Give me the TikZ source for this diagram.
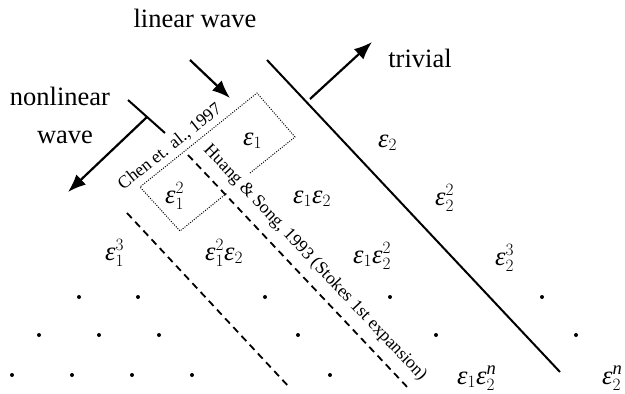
\documentclass[tikz,border=0pt]{standalone}
\usepackage{fontspec}
\setmainfont{Liberation Serif}
\usepackage{tikz}
\usetikzlibrary{arrows.meta}
\definecolor{InkBlack}{HTML}{000000}
\newcommand{\eps}{\textit{ε}}
\tikzset{
  big/.style={font=\fontsize{26.5}{30}\selectfont, inner sep=0pt, text=InkBlack},
  term/.style={big, anchor=base west},
  cite/.style={font=\fontsize{17.8}{20}\selectfont, inner sep=0pt},
  arw/.style={line width=2.2pt, -{Latex[length=18pt,width=14pt]}},
  trunc/.style={line width=1.8pt, dash pattern=on 7pt off 5pt},
  scope box/.style={line width=1pt, dash pattern=on 1pt off 1.4pt},
}

\begin{document}
\begin{tikzpicture}[x=1pt,y=-1pt]
                \useasboundingbox (0,0) rectangle (625,394);

                % wave labels
                \node[big, anchor=base] (lin) at (195,27) {linear wave};
                \node[big, anchor=base] (nonlin) at (60,105) {nonlinear};
                \node[big, anchor=base] (nlwave) at (65,143) {wave};
                \node[big, anchor=base] (triv) at (420,67) {trivial};

                \coordinate (linA) at (190,60);
                \coordinate (linB) at (230,98);
                \coordinate (tickA) at (128,100);
                \coordinate (tickB) at (165,133);
                \coordinate (nlA) at (147,117);
                \coordinate (nlB) at (68,192);
                \coordinate (trA) at (310,99);
                \coordinate (trB) at (372,42);
                \coordinate (bdA) at (267,60);
                \coordinate (bdB) at (560,372);

                \draw[arw] (linA) -- (linB);
                \draw[line width=2pt] (tickA) -- (tickB);
                \draw[arw] (nlA) -- (nlB);
                \draw[arw] (trA) -- (trB);
                \draw[line width=2pt] (bdA) -- (bdB);

                % truncation lines
                \coordinate (hsA) at (188,155);
                \coordinate (hsB) at (410,390);
                \coordinate (cwA) at (127,213);
                \coordinate (cwB) at (290,388);
                \draw[trunc] (hsA) -- (hsB);
                \draw[trunc] (cwA) -- (cwB);
                \draw[scope box] (250,173) -- (295,137) -- (257,93) -- (140,187) -- (180,231) -- (227,193);

                \node[cite, rotate=38.6] (chen) at (170,147) {Chen et. al., 1997};
                \node[cite, rotate=-46.7] (huang) at (315,263) {Huang \& Song, 1993 (Stokes 1st expansion)};

                % expansion terms
                \node[term] (e1) at (243,145) {$\eps_1$};
                \node[term] (e2) at (378,147) {$\eps_2$};
                \node[term] (e11) at (165,203) {$\eps_1^2$};
                \node[term] (e12) at (293,203) {$\eps_1\eps_2$};
                \node[term] (e22) at (435,205) {$\eps_2^2$};
                \node[term] (e111) at (105,260) {$\eps_1^3$};
                \node[term] (e112) at (205,260) {$\eps_1^2\eps_2$};
                \node[term] (e122) at (353,263) {$\eps_1\eps_2^2$};
                \node[term] (e222) at (495,265) {$\eps_2^3$};
                \node[term] (e12n) at (457,384) {$\eps_1\eps_2^{\mathit{n}}$};
                \node[term] (e2n) at (602,384) {$\eps_2^{\mathit{n}}$};

                % higher order dots
                \fill (79,297) circle (2pt) (138,297) circle (2pt) (265,297) circle (2pt) (390,297) circle (2pt) (542,297) circle (2pt);
                \fill (39,335) circle (2pt) (99,335) circle (2pt) (159,335) circle (2pt) (298,335) circle (2pt) (436,335) circle (2pt) (576,335) circle (2pt);
                \fill (12,375) circle (2pt) (72,375) circle (2pt) (132,375) circle (2pt) (192,375) circle (2pt) (330,375) circle (2pt);
            \end{tikzpicture}
\end{document}
